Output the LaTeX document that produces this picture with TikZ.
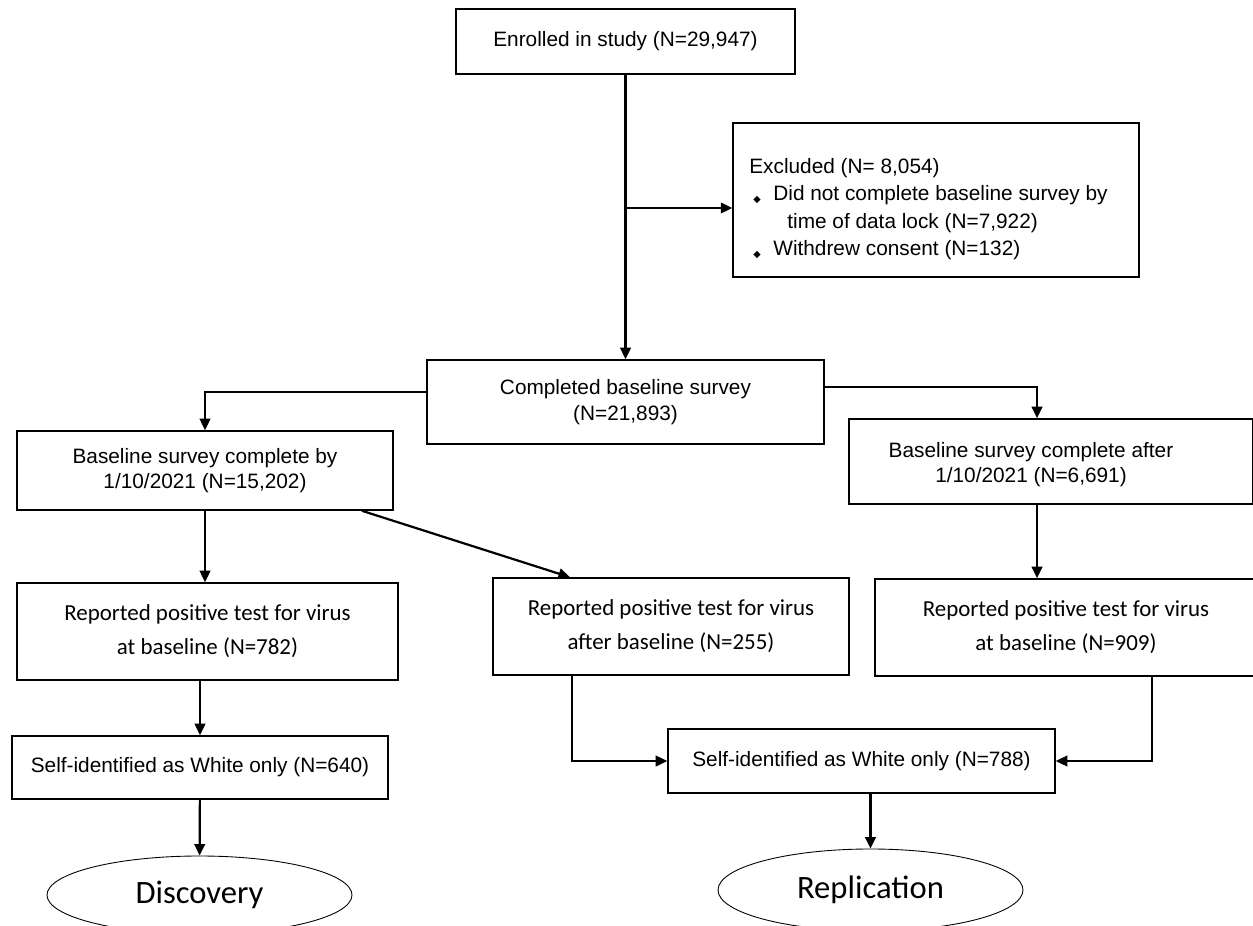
\documentclass[tikz,border=0pt]{standalone}
\usepackage{fontspec}
\setmainfont{Liberation Sans}
\newfontfamily\calfont{Carlito}
\newfontfamily\symfont{DejaVu Sans}
\usetikzlibrary{arrows.meta,shapes.geometric}
\newdimen\pxu
\pxu=0.567pt
\newcommand{\bul}{\makebox[24\pxu][l]{\hspace*{4\pxu}\raisebox{-0.8pt}{\symfont\fontsize{5.5}{5.5}\selectfont ◆}}}

\begin{document}
\begin{tikzpicture}[x=0.567pt,y=-0.567pt,
		box/.style={draw, line width=0.9pt, inner sep=0pt, align=center, font=\fontsize{11.8}{14.6}\selectfont},
		cbox/.style={box, font=\calfont\fontsize{13}{19.3}\selectfont},
		oval/.style={draw, ellipse, line width=0.5pt, inner sep=0pt, font=\calfont\fontsize{18.5}{22}\selectfont},
		arr/.style={-{Triangle[length=6.5pt,width=6pt]}, line width=1.25pt}]
	\clip (0,0) rectangle (1253,926);
	
	% enrolment and exclusions
	\node[box, minimum width=339*\pxu, minimum height=65*\pxu] (enrol) at (625.5,41.5){Enrolled in study (N=29,947)};
	\node[box, minimum width=406*\pxu, minimum height=154*\pxu] (excl) at (936,200){};
	\node[align=left, anchor=north west, inner sep=0pt, font=\fontsize{11.8}{15.6}\selectfont] (excltxt) at (749,158){Excluded (N= 8,054)\\
		\bul Did not complete baseline survey by\\
		\hspace*{38\pxu}time of data lock (N=7,922)\\
		\bul Withdrew consent (N=132)};
	\node[box, minimum width=397*\pxu, minimum height=84*\pxu] (compl) at (625.5,402){Completed baseline survey\\(N=21,893)};
	\draw[arr] (enrol) -- (compl);
	\coordinate (split) at (627,208);
	\draw[arr] (split) -- (split -| excl.west);
	
	% split by date
	\node[box, minimum width=376*\pxu, minimum height=79*\pxu] (lbase) at (205,470.5){Baseline survey complete by\\1/10/2021 (N=15,202)};
	\node[box, minimum width=404*\pxu, minimum height=85*\pxu] (rbase) at (1051,461.5){};
	\node[align=center, inner sep=0pt, font=\fontsize{11.8}{14.6}\selectfont] (rbasetxt) at (1031,464.5){Baseline survey complete after\\1/10/2021 (N=6,691)};
	\draw[arr] ([yshift=5.7pt]compl.west) -| (lbase.north);
	\draw[arr] ([yshift=8.5pt]compl.east) -| ([xshift=-7.9pt]rbase.north);
	
	% positive tests
	\node[cbox, minimum width=381*\pxu, minimum height=97*\pxu] (lrep) at (207.5,631.5){Reported positive test for virus\\at baseline (N=782)};
	\node[cbox, minimum width=356*\pxu, minimum height=97*\pxu] (mrep) at (671,626.5){Reported positive test for virus\\after baseline (N=255)};
	\node[cbox, minimum width=382*\pxu, minimum height=97*\pxu] (rrep) at (1066,627.5){Reported positive test for virus\\at baseline (N=909)};
	\draw[arr] (lbase) -- (lbase |- lrep.north);
	\draw[arr] ([xshift=89pt]lbase.south) -- ([xshift=-57.3pt]mrep.north);
	\draw[arr] ([xshift=-7.9pt]rbase.south) -- ([xshift=-7.9pt]rbase.south |- rrep.north);
	
	% ancestry
	\node[box, minimum width=376*\pxu, minimum height=63*\pxu] (lself) at (200,767.5){Self-identified as White only (N=640)};
	\node[box, minimum width=387*\pxu, minimum height=64*\pxu] (mself) at (861.5,761){Self-identified as White only (N=788)};
	\draw[arr] (lself.north |- lrep.south) -- (lself);
	\draw[arr] ([xshift=-56.1pt]mrep.south) |- (mself.west);
	\draw[arr] ([xshift=48.8pt]rrep.south) |- (mself.east);
	
	% cohorts
	\node[oval, minimum width=305*\pxu, minimum height=78*\pxu] (disc) at (199.5,895){Discovery};
	\node[oval, minimum width=305*\pxu, minimum height=82*\pxu] (repl) at (870.5,890){Replication};
	\draw[arr] (lself) -- (disc);
	\draw[arr] (repl.north |- mself.south) -- (repl);
	
\end{tikzpicture}
\end{document}
